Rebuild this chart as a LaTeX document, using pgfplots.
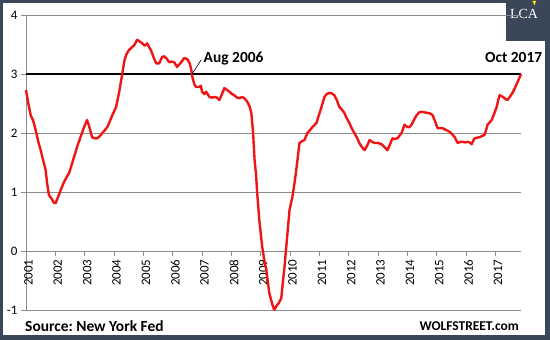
\documentclass[border=0pt]{standalone}
\usepackage{pgfplots}
\pgfplotsset{compat=1.18}
\usepackage{fontspec}
\setmainfont{Carlito}
\newfontfamily\lcafont{Liberation Serif}
\definecolor{frame}{RGB}{58,71,89}
\definecolor{gridgray}{RGB}{140,140,140}
\definecolor{linered}{RGB}{240,20,20}
\begin{document}
\frenchspacing
\begin{tikzpicture}
\useasboundingbox (0,0) rectangle (550bp,340bp);
\fill[frame] (0,0) rectangle (550bp,340bp);
\fill[white] (3bp,5bp) rectangle (545bp,337bp);
\fill[frame] (506bp,299bp) rectangle (550bp,340bp);
\node[text=white,font=\lcafont\fontsize{14}{14}\selectfont,inner sep=0pt,anchor=base] at (524bp,321.5bp) {LCA};
\fill[yellow!90!orange] (532.5bp,339bp) -- (536bp,339bp) -- (534.5bp,334.5bp) -- cycle;
\begin{axis}[
  at={(26bp,30bp)}, anchor=south west,
  scale only axis, width=495bp, height=295bp,
  xmin=2001, xmax=2017.87, ymin=-1, ymax=4,
  axis x line=middle, axis y line=left,
  hide obscured x ticks=false, hide obscured y ticks=false,
  axis line style={gridgray,-},
  tick align=outside,
  major tick length=5bp,
  tick style={gridgray, line width=0.8pt},
  xtick={2001,...,2017},
  ytick={-1,0,1,2,3,4},
  ymajorgrids,
  grid style={gridgray, line width=0.8pt},
  xticklabel style={xshift=2.5bp, rotate=90, anchor=east, font=\fontsize{13}{13}\selectfont},
  yticklabel style={font=\fontsize{13}{13}\selectfont},
  /pgf/number format/assume math mode=true,
  xticklabel={\pgfmathprintnumber[precision=0,1000 sep={}]{\tick}},
  clip=false,
]
\addplot[black, line width=2.6pt] coordinates {(2001,3) (2017.87,3)};
\addplot[linered, line width=2.4pt, line join=round] coordinates {
(2001.00,2.73) (2001.08,2.50) (2001.16,2.30) (2001.25,2.20) (2001.33,2.05)
(2001.42,1.85) (2001.50,1.71) (2001.58,1.55) (2001.67,1.37) (2001.72,1.15)
(2001.78,0.95) (2001.88,0.88) (2001.95,0.82) (2002.01,0.81) (2002.08,0.90)
(2002.18,1.03) (2002.28,1.15) (2002.38,1.25) (2002.47,1.32) (2002.58,1.50)
(2002.74,1.76) (2002.85,1.92) (2002.98,2.10) (2003.08,2.22) (2003.16,2.10)
(2003.25,1.93) (2003.34,1.91) (2003.43,1.91) (2003.52,1.95) (2003.60,2.00)
(2003.69,2.05) (2003.77,2.10) (2003.86,2.20) (2003.94,2.30) (2004.07,2.44)
(2004.17,2.68) (2004.28,3.00) (2004.35,3.22) (2004.41,3.32) (2004.50,3.40)
(2004.58,3.44) (2004.69,3.49) (2004.79,3.58) (2004.88,3.55) (2004.96,3.52)
(2005.05,3.48) (2005.13,3.52) (2005.20,3.45) (2005.26,3.40) (2005.35,3.28)
(2005.44,3.18) (2005.54,3.18) (2005.64,3.29) (2005.71,3.30) (2005.78,3.27)
(2005.88,3.20) (2005.96,3.21) (2006.05,3.20) (2006.15,3.12) (2006.22,3.16)
(2006.29,3.20) (2006.39,3.27) (2006.50,3.25) (2006.58,3.18) (2006.63,3.08)
(2006.67,2.95) (2006.74,2.82) (2006.80,2.78) (2006.90,2.78) (2006.96,2.80)
(2007.00,2.70) (2007.08,2.66) (2007.14,2.70) (2007.25,2.61) (2007.34,2.60)
(2007.42,2.61) (2007.50,2.60) (2007.59,2.56) (2007.68,2.66) (2007.76,2.76)
(2007.85,2.73) (2007.93,2.70) (2008.02,2.66) (2008.10,2.64) (2008.19,2.60)
(2008.27,2.59) (2008.37,2.61) (2008.46,2.58) (2008.54,2.53) (2008.62,2.45)
(2008.68,2.34) (2008.74,2.00) (2008.79,1.54) (2008.84,1.30) (2008.88,0.98)
(2008.95,0.53) (2009.05,0.07) (2009.12,-0.15) (2009.19,-0.32) (2009.29,-0.71)
(2009.38,-0.88) (2009.46,-1.00) (2009.55,-0.92) (2009.62,-0.88) (2009.70,-0.80)
(2009.75,-0.55) (2009.80,-0.32) (2009.90,0.24) (2009.98,0.69) (2010.08,0.92)
(2010.15,1.15) (2010.21,1.37) (2010.27,1.62) (2010.32,1.83) (2010.40,1.86)
(2010.49,1.88) (2010.59,2.00) (2010.68,2.05) (2010.76,2.10) (2010.90,2.17)
(2010.98,2.30) (2011.07,2.44) (2011.17,2.61) (2011.25,2.66) (2011.34,2.68)
(2011.42,2.67) (2011.51,2.64) (2011.60,2.55) (2011.68,2.44) (2011.76,2.40)
(2011.85,2.34) (2011.93,2.25) (2012.02,2.17) (2012.10,2.08) (2012.19,2.00)
(2012.28,1.92) (2012.36,1.83) (2012.45,1.76) (2012.54,1.71) (2012.62,1.78)
(2012.71,1.88) (2012.80,1.85) (2012.88,1.83) (2013.00,1.83) (2013.12,1.81)
(2013.22,1.76) (2013.32,1.71) (2013.40,1.80) (2013.49,1.91) (2013.57,1.90)
(2013.66,1.91) (2013.80,2.00) (2013.90,2.14) (2014.00,2.10) (2014.07,2.10)
(2014.14,2.14) (2014.22,2.22) (2014.31,2.30) (2014.40,2.35) (2014.48,2.36)
(2014.58,2.35) (2014.69,2.34) (2014.78,2.33) (2014.86,2.30) (2014.94,2.20)
(2015.03,2.08) (2015.12,2.08) (2015.20,2.08) (2015.32,2.05) (2015.44,2.02)
(2015.52,1.98) (2015.61,1.93) (2015.66,1.88) (2015.71,1.83) (2015.80,1.85)
(2015.88,1.85) (2015.96,1.84) (2016.05,1.85) (2016.12,1.84) (2016.19,1.81)
(2016.24,1.87) (2016.29,1.91) (2016.38,1.92) (2016.46,1.93) (2016.55,1.95)
(2016.63,1.97) (2016.68,2.05) (2016.73,2.14) (2016.80,2.18) (2016.87,2.22)
(2016.96,2.33) (2017.04,2.44) (2017.09,2.55) (2017.14,2.64) (2017.22,2.62)
(2017.31,2.59) (2017.36,2.57) (2017.41,2.56) (2017.50,2.62) (2017.58,2.68)
(2017.66,2.76) (2017.75,2.86) (2017.82,2.94) (2017.87,3.00)
};
\draw[black, line width=0.6pt] (axis cs:2006.66,3.0) -- (axis cs:2006.97,3.24);
\node[anchor=base west, inner sep=0pt, font=\bfseries\fontsize{15.5}{15.5}\selectfont] at (axis cs:2007.05,3.19) {Aug 2006};
\node[anchor=base east, inner sep=0pt, font=\bfseries\fontsize{15.5}{15.5}\selectfont] at (axis cs:2018.6,3.19) {Oct 2017};
\end{axis}
\node[anchor=base west, inner sep=0pt, font=\bfseries\fontsize{15.5}{15.5}\selectfont] at (25bp,8.5bp) {Source: New York Fed};
\node[anchor=base east, inner sep=0pt, font=\bfseries\fontsize{13.5}{13.5}\selectfont] at (519bp,10bp) {WOLFSTREET.com};
\end{tikzpicture}
\end{document}
